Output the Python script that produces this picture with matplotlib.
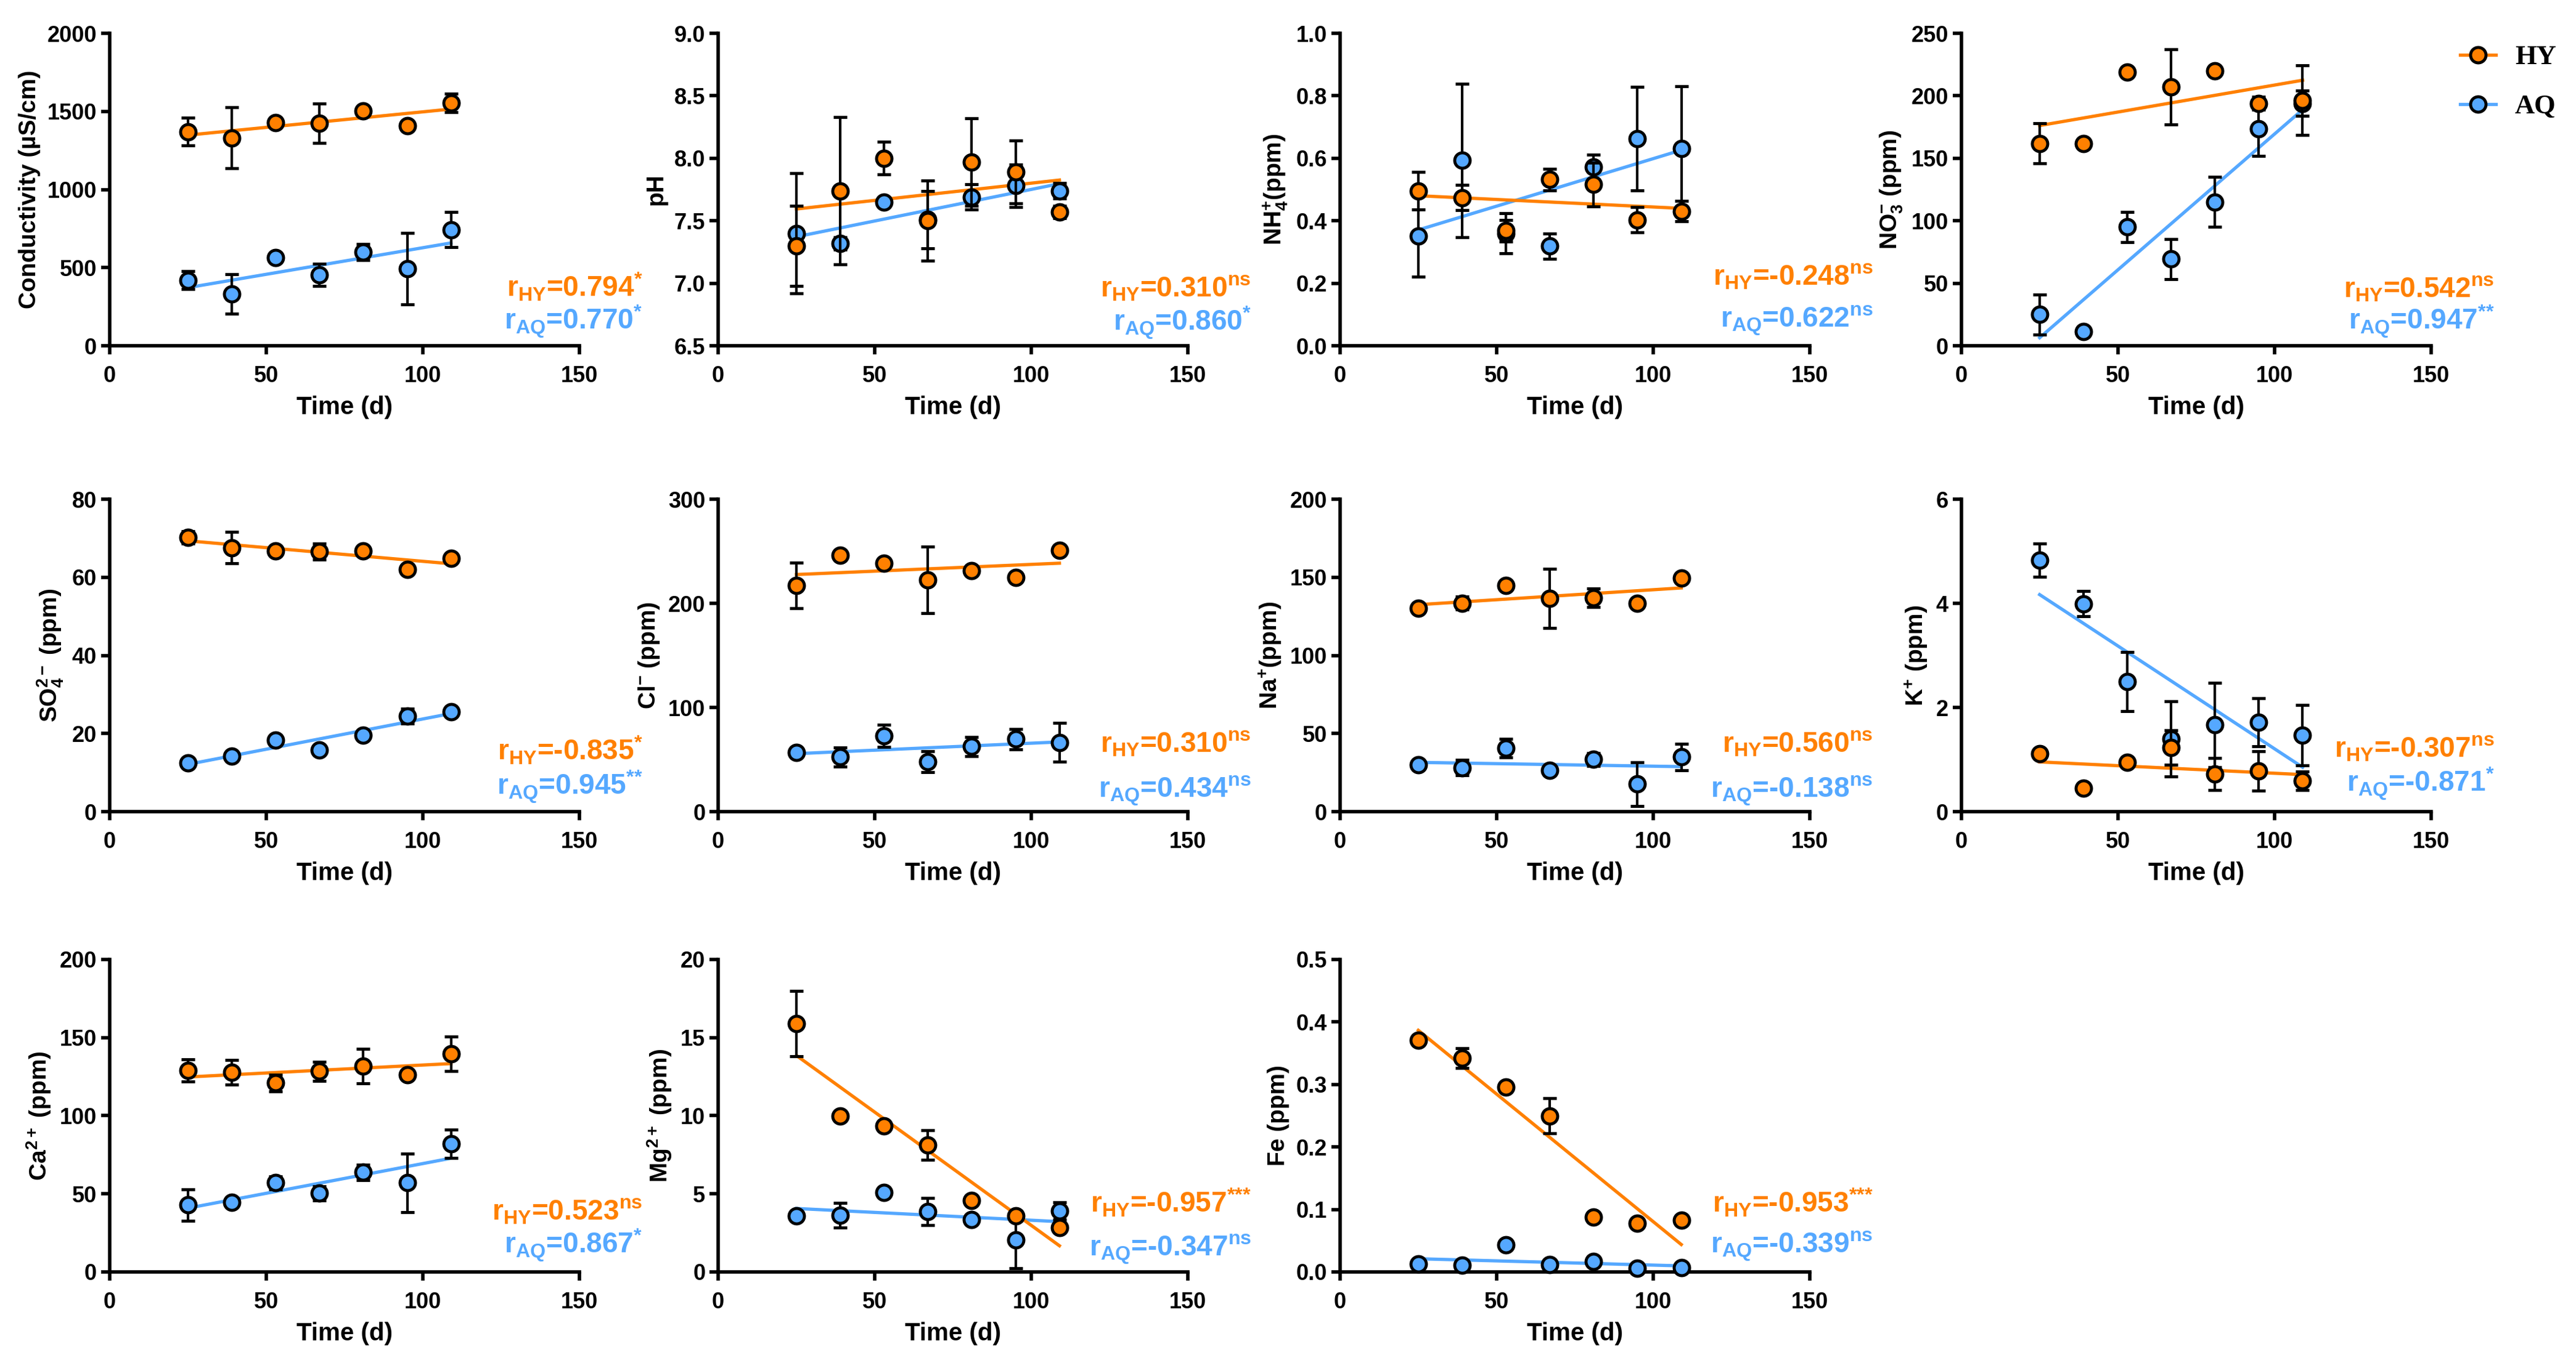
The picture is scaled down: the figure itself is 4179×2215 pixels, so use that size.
import numpy as np
import matplotlib
matplotlib.use('Agg')
import matplotlib.pyplot as plt
from matplotlib.lines import Line2D

days = [25, 39, 53, 67, 81, 95, 109]

cond_hy = [1371, 1331, 1430, 1424, 1504, 1407, 1555]
cond_hy_err = [88, 194, 20, 125, 25, 20, 59]
cond_aq = [419, 331, 565, 454, 599, 495, 743]
cond_aq_err = [57, 127, 25, 70, 52, 229, 112]

ph_hy = [7.30, 7.74, 8.00, 7.50, 7.97, 7.89, 7.57]
ph_hy_err = [0.32, 0.59, 0.13, 0.32, 0.35, 0.25, 0.05]
ph_aq = [7.40, 7.32, 7.65, 7.51, 7.69, 7.78, 7.74]
ph_aq_err = [0.48, 0.05, 0.03, 0.23, 0.10, 0.17, 0.06]

nh4_hy = [0.496, 0.474, 0.368, 0.532, 0.516, 0.403, 0.431]
nh4_hy_err = [0.06, 0.04, 0.035, 0.035, 0.07, 0.04, 0.032]
nh4_aq = [0.351, 0.593, 0.360, 0.319, 0.572, 0.663, 0.631]
nh4_aq_err = [0.13, 0.245, 0.065, 0.04, 0.04, 0.165, 0.2]

no3_hy = [161.8, 162.0, 219.0, 207.0, 220.0, 194.0, 196.5]
no3_hy_err = [16, 3, 3, 30, 3, 5, 28]
no3_aq = [25.0, 11.4, 95.0, 69.5, 115.0, 173.7, 194.0]
no3_aq_err = [16, 2, 12, 16, 20, 22, 10]

so4_hy = [70.2, 67.6, 66.8, 66.6, 66.8, 62.0, 64.8]
so4_hy_err = [1.6, 4.0, 0.5, 2.0, 0.5, 0.5, 0.5]
so4_aq = [12.5, 14.2, 18.3, 15.8, 19.6, 24.4, 25.5]
so4_aq_err = [0.5, 0.5, 0.5, 0.5, 0.5, 1.9, 0.5]

cl_hy = [217.2, 246.4, 238.5, 222.5, 231.2, 225.1, 250.8]
cl_hy_err = [22, 2, 2, 32, 2, 2, 2]
cl_aq = [57.0, 52.5, 72.8, 48.1, 62.5, 69.6, 66.5]
cl_aq_err = [2, 9, 10.5, 10, 9, 10, 18.6]

na_hy = [130.3, 133.5, 144.7, 136.4, 136.8, 133.5, 149.6]
na_hy_err = [1, 4, 1, 19, 6, 1, 1]
na_aq = [29.9, 28.1, 40.7, 26.3, 33.4, 17.6, 35.1]
na_aq_err = [1, 5, 6, 1, 4, 14, 8.5]

k_hy = [1.114, 0.447, 0.946, 1.235, 0.720, 0.778, 0.589]
k_hy_err = [0.08, 0.02, 0.03, 0.33, 0.31, 0.38, 0.18]
k_aq = [4.834, 3.994, 2.496, 1.393, 1.666, 1.718, 1.471]
k_aq_err = [0.32, 0.24, 0.57, 0.72, 0.81, 0.46, 0.58]

ca_hy = [128.9, 127.7, 120.9, 128.4, 131.6, 126.3, 139.6]
ca_hy_err = [7, 8, 5.5, 6, 11, 1, 11]
ca_aq = [42.9, 44.5, 57.0, 50.4, 63.75, 57.0, 82.0]
ca_aq_err = [10, 1, 4, 4.5, 5, 18.7, 9]

mg_hy = [15.9, 9.99, 9.36, 8.11, 4.57, 3.58, 2.83]
mg_hy_err = [2.1, 0.1, 0.1, 0.95, 0.1, 0.3, 0.1]
mg_aq = [3.58, 3.63, 5.10, 3.85, 3.35, 2.06, 3.90]
mg_aq_err = [0.1, 0.8, 0.1, 0.87, 0.1, 1.83, 0.55]

fe_hy = [0.3706, 0.3424, 0.2954, 0.2498, 0.0873, 0.0783, 0.0828]
fe_hy_err = [0.002, 0.016, 0.002, 0.028, 0.002, 0.002, 0.002]
fe_aq = [0.0125, 0.0103, 0.0434, 0.0121, 0.0166, 0.0058, 0.0067]
fe_aq_err = [0.001, 0.001, 0.001, 0.001, 0.001, 0.001, 0.001]

# label, ylim, ytick step, tick format, HY, HY err, AQ, AQ err, r_HY, sig, r_AQ, sig
panels = [
    ('Conductivity (µS/cm)', (0, 2000), 500, '%d', cond_hy, cond_hy_err, cond_aq, cond_aq_err, '0.794', '*', '0.770', '*'),
    ('pH', (6.5, 9.0), 0.5, '%.1f', ph_hy, ph_hy_err, ph_aq, ph_aq_err, '0.310', 'ns', '0.860', '*'),
    ('NH$_{\\mathregular{4}}^{\\mathregular{+}}$(ppm)', (0, 1.0), 0.2, '%.1f', nh4_hy, nh4_hy_err, nh4_aq, nh4_aq_err, '-0.248', 'ns', '0.622', 'ns'),
    ('NO$_{\\mathregular{3}}^{\\mathregular{-}}$ (ppm)', (0, 250), 50, '%d', no3_hy, no3_hy_err, no3_aq, no3_aq_err, '0.542', 'ns', '0.947', '**'),
    ('SO$_{\\mathregular{4}}^{\\mathregular{2-}}$ (ppm)', (0, 80), 20, '%d', so4_hy, so4_hy_err, so4_aq, so4_aq_err, '-0.835', '*', '0.945', '**'),
    ('Cl$^{\\mathregular{-}}$ (ppm)', (0, 300), 100, '%d', cl_hy, cl_hy_err, cl_aq, cl_aq_err, '0.310', 'ns', '0.434', 'ns'),
    ('Na$^{\\mathregular{+}}$(ppm)', (0, 200), 50, '%d', na_hy, na_hy_err, na_aq, na_aq_err, '0.560', 'ns', '-0.138', 'ns'),
    ('K$^{\\mathregular{+}}$ (ppm)', (0, 6), 2, '%d', k_hy, k_hy_err, k_aq, k_aq_err, '-0.307', 'ns', '-0.871', '*'),
    ('Ca$^{\\mathregular{2+}}$ (ppm)', (0, 200), 50, '%d', ca_hy, ca_hy_err, ca_aq, ca_aq_err, '0.523', 'ns', '0.867', '*'),
    ('Mg$^{\\mathregular{2+}}$ (ppm)', (0, 20), 5, '%d', mg_hy, mg_hy_err, mg_aq, mg_aq_err, '-0.957', '***', '-0.347', 'ns'),
    ('Fe (ppm)', (0, 0.5), 0.1, '%.1f', fe_hy, fe_hy_err, fe_aq, fe_aq_err, '-0.953', '***', '-0.339', 'ns'),
]

# annotation baselines (axes fraction) for r_HY and r_AQ
text_y = [(0.156, 0.051), (0.157, 0.046), (0.195, 0.059), (0.155, 0.051),
          (0.164, 0.053), (0.19, 0.045), (0.19, 0.045), (0.174, 0.063),
          (0.166, 0.059), (0.19, 0.05), (0.19, 0.06)]

c_hy = '#FF8000'
c_aq = '#55A8FF'

plt.rcParams['font.family'] = ['Liberation Sans', 'DejaVu Sans']
plt.rcParams['font.weight'] = 'bold'
plt.rcParams['axes.labelweight'] = 'bold'
plt.rcParams['mathtext.fontset'] = 'custom'
plt.rcParams['mathtext.rm'] = 'Liberation Sans:bold'
plt.rcParams['mathtext.it'] = 'Liberation Sans:bold'
plt.rcParams['mathtext.bf'] = 'Liberation Sans:bold'

fig = plt.figure(figsize=(41.79, 22.15), dpi=100)

lefts = [0.0426, 0.2788, 0.5202, 0.7614]
bottoms = [0.7467, 0.4054, 0.0682]
w, h = 0.1823, 0.2289

def rlabel(sub, val, sig):
    sig = sig.replace('*', '{*}')
    return 'r$_{\\mathregular{%s}}$=%s$^{\\mathregular{%s}}$' % (sub, val, sig)

for i, p in enumerate(panels):
    label, ylim, step, fmt, hy, hy_err, aq, aq_err, r_hy, s_hy, r_aq, s_aq = p
    ax = fig.add_axes([lefts[i % 4], bottoms[i // 4], w, h])
    x = np.array(days)
    for y, err, c, z in [(aq, aq_err, c_aq, 3), (hy, hy_err, c_hy, 4)]:
        k, b = np.polyfit(x, y, 1)
        xl = np.array([x[0], x[-1]])
        ax.plot(xl, k * xl + b, color=c, lw=3.8, zorder=2, clip_on=False)
        ax.errorbar(x, y, yerr=err, fmt='o', ms=18, mfc=c, mec='black', mew=3.5,
                    ecolor='black', elinewidth=3, capsize=8, capthick=3,
                    zorder=z, clip_on=False)
    ax.set_xlim(0, 150)
    ax.set_ylim(*ylim)
    ax.set_xticks([0, 50, 100, 150])
    ax.set_yticks(np.arange(ylim[0], ylim[1] + step / 2, step))
    ax.yaxis.set_major_formatter(matplotlib.ticker.FormatStrFormatter(fmt))
    for s in ['top', 'right']:
        ax.spines[s].set_visible(False)
    for s in ['left', 'bottom']:
        ax.spines[s].set_linewidth(4)
    ax.tick_params(direction='out', length=10, width=4, labelsize=26)
    ax.tick_params(axis='x', pad=13)
    ax.tick_params(axis='y', pad=5)
    ax.set_xlabel('Time (d)', fontsize=29, labelpad=10)
    ax.set_ylabel(label, fontsize=28, labelpad=8)
    ty = text_y[i]
    ax.text(1.135, ty[0], rlabel('HY', r_hy, s_hy), color=c_hy, fontsize=33,
            ha='right', va='baseline', transform=ax.transAxes)
    ax.text(1.135, ty[1], rlabel('AQ', r_aq, s_aq), color=c_aq, fontsize=33,
            ha='right', va='baseline', transform=ax.transAxes)

handles = [Line2D([], [], color=c, lw=3.8, marker='o', ms=18, mfc=c, mec='black', mew=3.5)
           for c in (c_hy, c_aq)]
fig.legend(handles, ['HY', 'AQ'], loc='upper left', bbox_to_anchor=(0.955, 0.967),
           frameon=False, prop={'family': 'Liberation Serif', 'weight': 'bold', 'size': 32},
           handlelength=1.3, handletextpad=0.7, labelspacing=0.9, borderpad=0, borderaxespad=0)

fig.savefig('out.png', dpi=100)
